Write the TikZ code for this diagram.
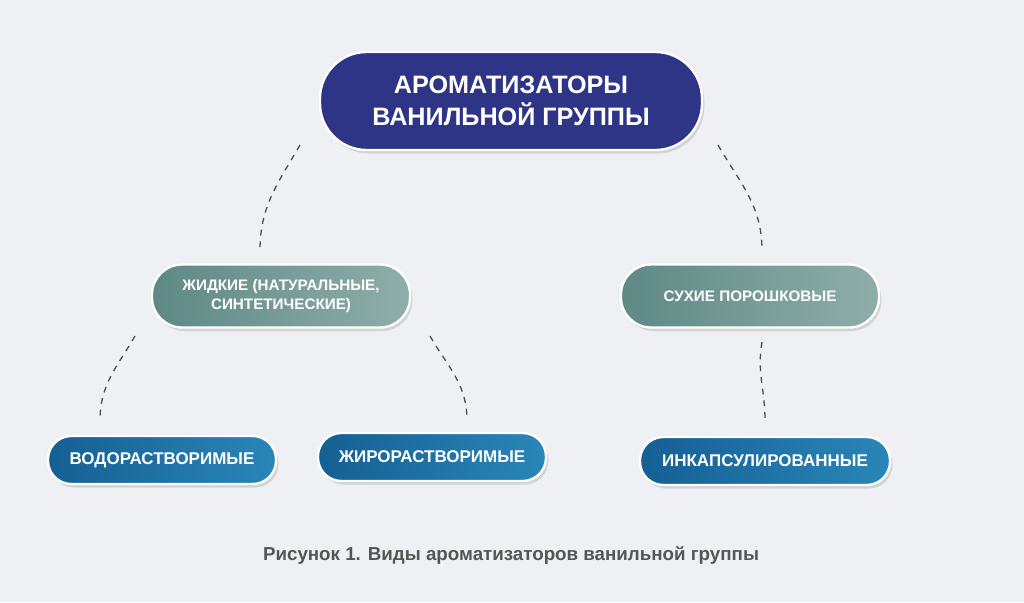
\documentclass[tikz,border=0pt]{standalone}
\usepackage{fontspec}
\setmainfont{Liberation Sans}
\usetikzlibrary{positioning, shadows}
\definecolor{navy}{HTML}{2E3587}
\definecolor{tealdark}{HTML}{5E8984}
\definecolor{teallight}{HTML}{8FAEAA}
\definecolor{bluedark}{HTML}{155F93}
\definecolor{bluelight}{HTML}{2A86B8}
\definecolor{bgcol}{HTML}{EEF0F4}
\definecolor{capcol}{HTML}{555555}
\tikzset{
    box/.style={
        rounded corners=#1,
        draw=white,
        line width=2pt,
        align=center,
        text=white,
        font=\bfseries,
        drop shadow={shadow xshift=2pt, shadow yshift=-3pt, opacity=0.25}
    },
    topbox/.style={
        box=14mm,
        fill=navy,
        minimum width=11.46cm,
        minimum height=2.94cm,
        font=\bfseries\fontsize{21.5}{27}\selectfont
    },
    midbox/.style={
        box=9mm,
        left color=tealdark,
        right color=teallight,
        minimum width=7.74cm,
        minimum height=1.89cm,
        font=\bfseries\fontsize{13}{16}\selectfont
    },
    lowbox/.style={
        box=7mm,
        left color=bluedark,
        right color=bluelight,
        minimum width=6.84cm,
        minimum height=1.44cm,
        font=\bfseries\fontsize{14.5}{17}\selectfont
    },
    link/.style={
        line width=1.1pt,
        dash pattern=on 5pt off 5pt,
        draw=black!70
    },
}
\begin{document}
\begin{tikzpicture}[x=0.03cm, y=-0.03cm]

% background
\fill[bgcol] (0,0) rectangle (1024,602);

% Top node
\node[topbox] (top) at (511,101) {АРОМАТИЗАТОРЫ\\ВАНИЛЬНОЙ ГРУППЫ};

% Middle nodes
\node[midbox] (liquid) at (281,296) {ЖИДКИЕ (НАТУРАЛЬНЫЕ,\\СИНТЕТИЧЕСКИЕ)};
\node[midbox] (dry) at (750,296) {СУХИЕ ПОРОШКОВЫЕ};

% Bottom nodes
\node[lowbox] (water) at (162,460) {ВОДОРАСТВОРИМЫЕ};
\node[lowbox] (fat) at (432,457) {ЖИРОРАСТВОРИМЫЕ};
\node[lowbox, minimum width=7.5cm] (caps) at (765,461) {ИНКАПСУЛИРОВАННЫЕ};

% Link ends
\coordinate (a1) at (300,145);
\coordinate (a2) at (260,250);
\coordinate (b1) at (718,145);
\coordinate (b2) at (762,250);
\coordinate (c1) at (135,336);
\coordinate (c2) at (100,420);
\coordinate (d1) at (430,336);
\coordinate (d2) at (467,420);
\coordinate (e1) at (762,342);
\coordinate (e2) at (765,420);

% Dashed links
\draw[link] (a1) to[out=-120, in=90] (a2);
\draw[link] (b1) to[out=-60, in=90] (b2);
\draw[link] (c1) to[out=-120, in=90] (c2);
\draw[link] (d1) to[out=-60, in=90] (d2);
\draw[link] (e1) to[out=-100, in=90] (e2);

% Caption
\node[text=capcol, font=\bfseries\fontsize{16}{19}\selectfont] (cap) at (511,555)
    {Рисунок 1. Виды ароматизаторов ванильной группы};

\end{tikzpicture}
\end{document}
